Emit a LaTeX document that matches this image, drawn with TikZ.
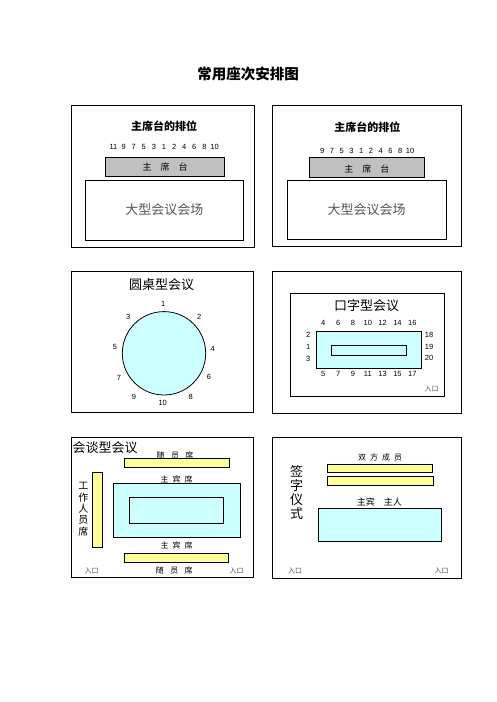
\documentclass[tikz,border=0pt]{standalone}
\usepackage{fontspec}
\setmainfont{Liberation Sans}
\newfontfamily\cjk{Noto Sans CJK SC}
\newcommand\fsz[1]{\fontsize{#1}{#1}\selectfont}
\definecolor{cyanfill}{HTML}{CCFFFF}
\definecolor{yelfill}{HTML}{FFFF99}
\definecolor{greyfill}{HTML}{C0C0C0}
\definecolor{greytxt}{HTML}{555555}
\begin{document}
\begin{tikzpicture}[x=1pt,y=-1pt,
  panel/.style={draw,line width=0.8pt},
  box/.style={draw,line width=0.8pt},
  cyanbox/.style={draw,line width=0.8pt,fill=cyanfill},
  yelbox/.style={draw,line width=0.6pt,fill=yelfill},
  greybox/.style={draw,line width=0.8pt,fill=greyfill},
  txt/.style={inner sep=0pt,anchor=center},
  num/.style={inner sep=0pt,anchor=center,font=\fsz{7.5}},
  ptitle/.style={inner sep=0pt,anchor=center,font=\cjk\bfseries\fsz{11}},
  big/.style={inner sep=0pt,anchor=center,font=\cjk\fsz{13}},
  small/.style={inner sep=0pt,anchor=center,font=\cjk\fsz{8}},
  door/.style={inner sep=0pt,anchor=center,font=\cjk\fsz{7},text=greytxt}]
\useasboundingbox[fill=white] (0,0) rectangle (496,702);

\node[txt,font=\cjk\bfseries\fsz{14.5}] (title) at (248,74) {常用座次安排图};

% Panel 1
\draw[panel] (71,105) rectangle (254,247);
\node[ptitle] (t1) at (164,126) {主席台的排位};
\foreach \n [count=\i] in {11,9,7,5,3,1,2,4,6,8,10}
  \node[num] (p1n\i) at ({113.5+10.1*(\i-1)},146.7) {\n};
\draw[greybox] (105.7,157.3) rectangle (224.3,176.3);
\node[small,font=\cjk\fsz{9}] (p1g) at (165,167.5) {主\hspace{1em}席\hspace{1em}台};
\draw[box] (85.3,180) rectangle (243.3,240);
\node[big,text=greytxt] (p1b) at (164.3,209.3) {大型会议会场};

% Panel 2
\draw[panel] (272.5,105.5) rectangle (461.7,246.7);
\node[ptitle] (t2) at (367.3,126.7) {主席台的排位};
\foreach \n [count=\i] in {9,7,5,3,1,2,4,6,8,10}
  \node[num] (p2n\i) at ({322.3+9.75*(\i-1)},150.7) {\n};
\draw[greybox] (309.3,157.3) rectangle (424.3,177.3);
\node[small,font=\cjk\fsz{9}] (p2g) at (366.8,169.5) {主\hspace{1em}席\hspace{1em}台};
\draw[box] (287.3,180) rectangle (446,239.3);
\node[big,text=greytxt] (p2b) at (366.7,209.3) {大型会议会场};

% Panel 3
\draw[panel] (71,271) rectangle (253.3,412.7);
\node[big] (t3) at (161.7,285) {圆桌型会议};
\draw[cyanbox] (164,353.3) circle (41.7);
\node[num] (c1) at (163.3,304.3) {1};
\node[num] (c2) at (199.3,316.7) {2};
\node[num] (c3) at (128.3,317.3) {3};
\node[num] (c4) at (212.7,349.3) {4};
\node[num] (c5) at (115,346.7) {5};
\node[num] (c6) at (209,376.7) {6};
\node[num] (c7) at (119,377.7) {7};
\node[num] (c8) at (190.7,396.7) {8};
\node[num] (c9) at (134,396.7) {9};
\node[num] (c10) at (162.7,402.7) {10};

% Panel 4
\draw[panel] (272.7,271.7) rectangle (461.7,413.3);
\draw[box] (290.7,293.3) rectangle (444.3,396);
\node[big] (t4) at (366.7,306) {口字型会议};
\foreach \n [count=\i] in {4,6,8,10,12,14,16}
  \node[num] (p4t\i) at ({323.3+14.83*(\i-1)},322.7) {\n};
\foreach \n [count=\i] in {5,7,9,11,13,15,17}
  \node[num] (p4b\i) at ({323.3+14.83*(\i-1)},374) {\n};
\draw[cyanbox] (316.7,331) rectangle (421.7,368.3);
\draw[box] (331.7,345.3) rectangle (406.7,355.3);
\node[num] (l2) at (308.3,335) {2};
\node[num] (l1) at (308.3,346.7) {1};
\node[num] (l3) at (308.3,358.5) {3};
\node[num] (r18) at (429,335) {18};
\node[num] (r19) at (429,346.7) {19};
\node[num] (r20) at (429,358) {20};
\node[door] (d4) at (431.7,389.3) {入口};

% Panel 5
\draw[panel] (71,437.7) rectangle (253.3,577.7);
\node[big,anchor=west] (t5) at (72.5,447.5) {会谈型会议};
\node[small] (s5a) at (175,455) {随\hspace{0.8em}员\hspace{0.8em}席};
\draw[yelbox] (124.3,458.3) rectangle (229.3,467.3);
\node[small] (s5b) at (176.7,479) {主\hspace{0.5em}宾\hspace{0.5em}席};
\draw[cyanbox] (113.3,483.3) rectangle (240,537.3);
\draw[box] (129.3,497.3) rectangle (223.3,523.3);
\node[small] (s5c) at (176.7,545) {主\hspace{0.5em}宾\hspace{0.5em}席};
\draw[yelbox] (124.3,553.3) rectangle (228.3,562.3);
\node[small] (s5d) at (174.3,570) {随\hspace{0.8em}员\hspace{0.8em}席};
\node[door] (d5a) at (91.7,570.5) {入口};
\node[door] (d5b) at (236.7,570.5) {入口};
\draw[yelbox] (92.3,472.7) rectangle (102.3,547.3);
\foreach \c [count=\i] in {工,作,人,员,席}
  \node[txt,font=\cjk\fsz{10}] (w\i) at (83.3,{486+11.3*(\i-1)}) {\c};

% Panel 6
\draw[panel] (272.7,437.3) rectangle (461.7,578.3);
\node[small] (s6a) at (380,457.7) {双\hspace{0.5em}方\hspace{0.5em}成\hspace{0.5em}员};
\draw[yelbox] (327.7,464.3) rectangle (432.3,472.3);
\draw[yelbox] (327.7,476.7) rectangle (433.3,485.7);
\node[small,font=\cjk\fsz{9}] (s6b) at (379.3,501.7) {主宾\hspace{1em}主人};
\draw[cyanbox] (318.3,508.3) rectangle (441.7,541);
\foreach \c [count=\i] in {签,字,仪,式}
  \node[txt,font=\cjk\fsz{13}] (q\i) at (296.7,{471.7+13.9*(\i-1)}) {\c};
\node[door] (d6a) at (295,570.7) {入口};
\node[door] (d6b) at (441.7,570.7) {入口};
\end{tikzpicture}
\end{document}
